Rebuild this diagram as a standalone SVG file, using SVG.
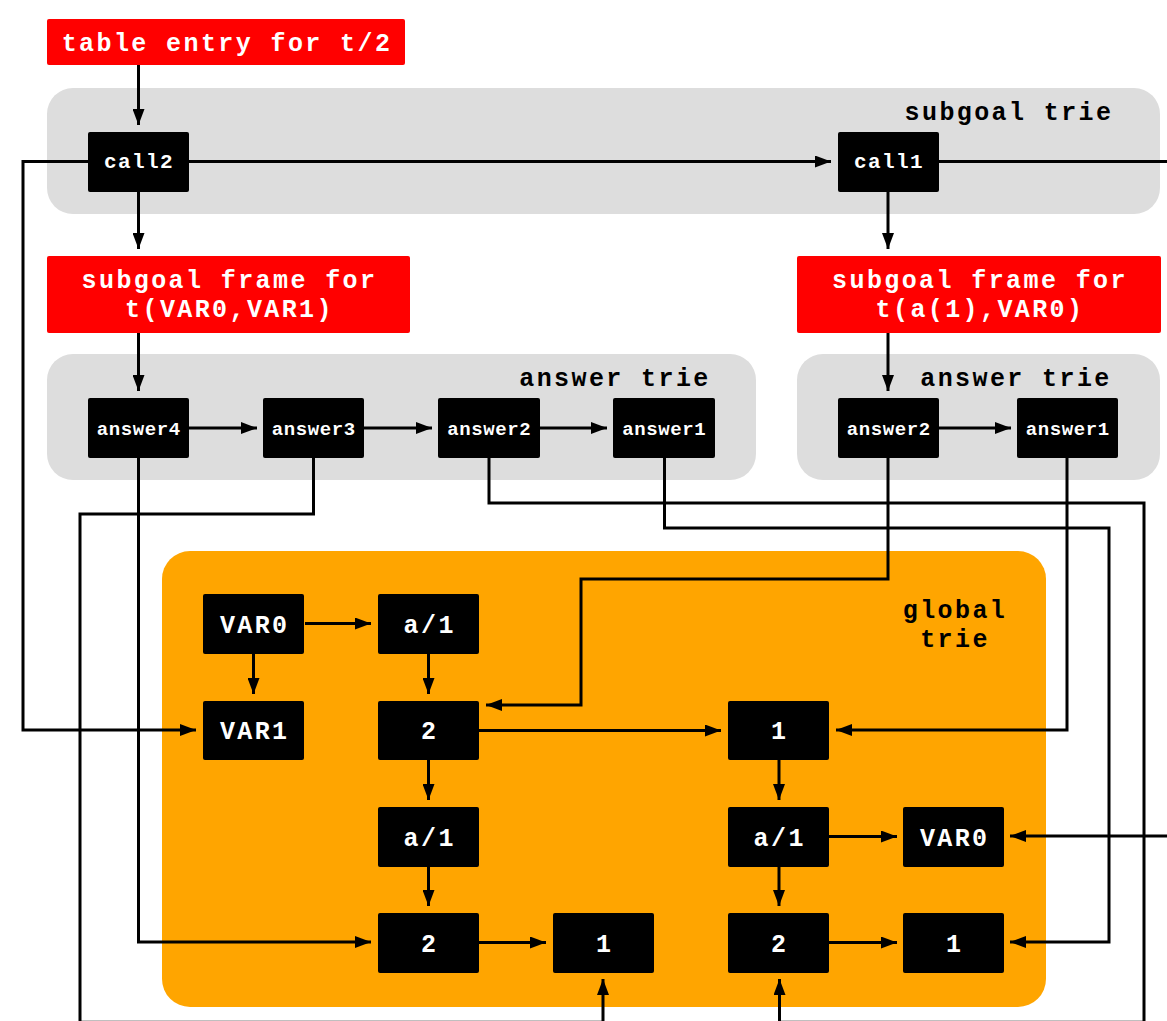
<svg xmlns="http://www.w3.org/2000/svg" width="1167" height="1021" viewBox="0 0 1167 1021">
<style>
text{font-family:"Liberation Mono","Courier New",monospace;font-weight:bold;text-anchor:middle}
.red{fill:#ff0000}
.gray{fill:#dddddd}
.orange{fill:#ffa500}
.box{fill:#000000}
.wt{fill:#ffffff}
.big{font-size:25px;letter-spacing:2.4px}
.call{font-size:21px;letter-spacing:1.4px;fill:#ffffff}
.ans{font-size:19px;letter-spacing:0.6px;fill:#ffffff}
.lbl{font-size:25px;letter-spacing:2.4px;fill:#000000}
.c{fill:none;stroke:#000000;stroke-width:3;marker-end:url(#ah)}
</style>
<defs>
<marker id="ah" viewBox="0 0 16 12" markerWidth="16" markerHeight="12" refX="16" refY="6" orient="auto" markerUnits="userSpaceOnUse"><path d="M0,0 L16,6 L0,12 z" fill="#000"/></marker>
</defs>
<rect width="1167" height="1021" fill="#ffffff"/>

<g id="containers">
<g id="subgoal-trie"><rect class="gray" x="47" y="88" width="1113" height="126" rx="26"/><text class="lbl" x="1009" y="120">subgoal trie</text></g>
<g id="answer-trie-1"><rect class="gray" x="47" y="354" width="709" height="126" rx="26"/><text class="lbl" x="615" y="386">answer trie</text></g>
<g id="answer-trie-2"><rect class="gray" x="797" y="354" width="363" height="126" rx="26"/><text class="lbl" x="1016" y="386">answer trie</text></g>
<g id="global-trie"><rect class="orange" x="162" y="551" width="884" height="456" rx="28"/><text class="lbl" x="955" y="618">global</text><text class="lbl" x="955" y="647">trie</text></g>
</g>

<g id="connectors">
<path class="c" d="M138.5,65 V125"/>
<path class="c" d="M189,161.5 H831"/>
<path class="c" d="M939,161.5 H1175 V836 H1010"/>
<path class="c" d="M89,161.5 H23 V730 H196"/>
<path class="c" d="M138.5,192 V249"/>
<path class="c" d="M888,192 V249"/>
<path class="c" d="M138.5,333 V391"/>
<path class="c" d="M888,333 V391"/>
<path class="c" d="M189,428 H257"/>
<path class="c" d="M364,428 H432"/>
<path class="c" d="M540,428 H607"/>
<path class="c" d="M939,428 H1011"/>
<path class="c" d="M138.5,458 V942 H371"/>
<path class="c" d="M313.5,458 V514 H80 V1022.3 H603 V979"/>
<path class="c" d="M489,458 V503 H1144 V1022.3 H779.5 V979"/>
<path class="c" d="M664.5,458 V528 H1109 V942 H1010"/>
<path class="c" d="M1067,458 V730 H836"/>
<path class="c" d="M888,458 V579 H581 V705 H486"/>
<path class="c" d="M305,623.5 H371"/>
<path class="c" d="M253.5,654 V694"/>
<path class="c" d="M428.5,654 V694"/>
<path class="c" d="M479,730.5 H721"/>
<path class="c" d="M428.5,760 V800"/>
<path class="c" d="M428.5,867 V906"/>
<path class="c" d="M479,942.5 H546"/>
<path class="c" d="M779,760 V800"/>
<path class="c" d="M829,836.5 H897"/>
<path class="c" d="M779,867 V906"/>
<path class="c" d="M829,942.5 H897"/>
</g>

<g id="table-entry"><rect class="red" x="47" y="19" width="358" height="46" rx="2"/><text class="big wt" x="227" y="51">table entry for t/2</text></g>
<g id="call2"><rect class="box" x="88" y="132" width="101" height="60" rx="2"/><text class="call" x="139" y="168">call2</text></g>
<g id="call1"><rect class="box" x="838" y="132" width="101" height="60" rx="2"/><text class="call" x="889" y="168">call1</text></g>
<g id="frame-1"><rect class="red" x="47" y="256" width="363" height="77" rx="2"/><text class="big wt" x="229.5" y="288">subgoal frame for</text><text class="big wt" x="229.5" y="317">t(VAR0,VAR1)</text></g>
<g id="frame-2"><rect class="red" x="797" y="256" width="364" height="77" rx="2"/><text class="big wt" x="980" y="288">subgoal frame for</text><text class="big wt" x="980" y="317">t(a(1),VAR0)</text></g>
<g id="answer4"><rect class="box" x="88" y="398" width="101" height="60" rx="2"/><text class="ans" x="138.8" y="435">answer4</text></g>
<g id="answer3"><rect class="box" x="263" y="398" width="101" height="60" rx="2"/><text class="ans" x="313.8" y="435">answer3</text></g>
<g id="answer2-a"><rect class="box" x="438" y="398" width="102" height="60" rx="2"/><text class="ans" x="489.3" y="435">answer2</text></g>
<g id="answer1-a"><rect class="box" x="613" y="398" width="102" height="60" rx="2"/><text class="ans" x="664.3" y="435">answer1</text></g>
<g id="answer2-b"><rect class="box" x="838" y="398" width="101" height="60" rx="2"/><text class="ans" x="888.8" y="435">answer2</text></g>
<g id="answer1-b"><rect class="box" x="1017" y="398" width="101" height="60" rx="2"/><text class="ans" x="1067.8" y="435">answer1</text></g>

<g id="g-var0"><rect class="box" x="203" y="594" width="101" height="60" rx="2"/><text class="big wt" x="254.7" y="633">VAR0</text></g>
<g id="g-a1-top"><rect class="box" x="378" y="594" width="101" height="60" rx="2"/><text class="big wt" x="429.7" y="633">a/1</text></g>
<g id="g-var1"><rect class="box" x="203" y="701" width="101" height="59" rx="2"/><text class="big wt" x="254.7" y="739">VAR1</text></g>
<g id="g-2-mid"><rect class="box" x="378" y="701" width="101" height="59" rx="2"/><text class="big wt" x="429.7" y="739">2</text></g>
<g id="g-1-mid"><rect class="box" x="728" y="701" width="101" height="59" rx="2"/><text class="big wt" x="779.7" y="739">1</text></g>
<g id="g-a1-left"><rect class="box" x="378" y="807" width="101" height="60" rx="2"/><text class="big wt" x="429.7" y="846">a/1</text></g>
<g id="g-a1-right"><rect class="box" x="728" y="807" width="101" height="60" rx="2"/><text class="big wt" x="779.7" y="846">a/1</text></g>
<g id="g-var0-right"><rect class="box" x="903" y="807" width="101" height="60" rx="2"/><text class="big wt" x="954.7" y="846">VAR0</text></g>
<g id="g-2-bl"><rect class="box" x="378" y="913" width="101" height="60" rx="2"/><text class="big wt" x="429.7" y="952">2</text></g>
<g id="g-1-bl"><rect class="box" x="553" y="913" width="101" height="60" rx="2"/><text class="big wt" x="604.7" y="952">1</text></g>
<g id="g-2-br"><rect class="box" x="728" y="913" width="101" height="60" rx="2"/><text class="big wt" x="779.7" y="952">2</text></g>
<g id="g-1-br"><rect class="box" x="903" y="913" width="101" height="60" rx="2"/><text class="big wt" x="954.7" y="952">1</text></g>
</svg>
